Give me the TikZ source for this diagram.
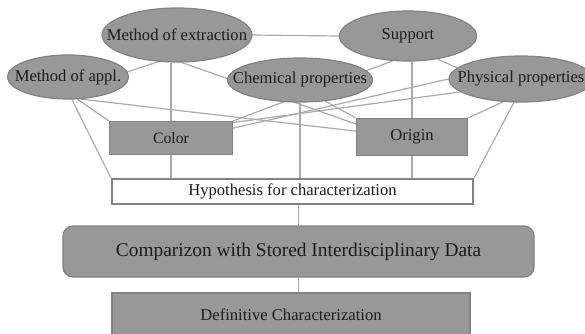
\documentclass[tikz,border=0pt]{standalone}
\usepackage{fontspec}
\setmainfont{Liberation Serif}
\usetikzlibrary{shapes.geometric, backgrounds}
\definecolor{fillgray}{RGB}{152,152,152}
\definecolor{edgegray}{RGB}{130,130,130}
\definecolor{linegray}{RGB}{170,170,170}
\definecolor{txtgray}{RGB}{28,28,28}
\tikzstyle{ellip} = [ellipse, draw=edgegray, fill=fillgray,
    line width=0.6pt, text=txtgray, inner sep=0pt]
\tikzstyle{block} = [rectangle, draw=edgegray, fill=fillgray,
    line width=0.6pt, text=txtgray, inner sep=0pt]
\tikzstyle{hypo} = [rectangle, draw=edgegray, fill=white,
    line width=1.2pt, text=txtgray, inner sep=0pt]
\tikzstyle{line} = [draw=linegray, line width=0.6pt]

\begin{document}
\begin{tikzpicture}[x=0.5pt, y=-0.5pt, font=\fontsize{8.3}{10}\selectfont]
                \useasboundingbox (0,0) rectangle (585,333);
                % top row of properties
                \node [ellip, minimum width=75pt, minimum height=27pt] at (177,35) (ext) {\makebox[0pt]{Method of extraction}};
                \node [ellip, minimum width=68.5pt, minimum height=25pt] at (408,36) (supp) {\makebox[0pt]{Support}};
                \node [ellip, minimum width=60.5pt, minimum height=22pt] at (68,77) (appl) {\makebox[0pt]{Method of appl.}};
                \node [ellip, minimum width=72.5pt, minimum height=22pt] at (300,80) (chem) {\makebox[0pt]{Chemical properties}};
                \node [ellip, minimum width=72pt, minimum height=23pt] at (521,79) (phys) {\makebox[0pt]{Physical properties}};
                \node [block, minimum width=61.5pt, minimum height=16.5pt, font=\fontsize{7.9}{9}\selectfont] at (171,138) (color) {Color};
                \node [block, minimum width=55.5pt, minimum height=18.5pt] at (412,137) (origin) {Origin};
                % chain down to the result
                \node [hypo, minimum width=180.5pt, minimum height=12.5pt] at (292.5,191.5) (hyp) {Hypothesis for characterization};
                \node [block, rounded corners=5pt, minimum width=235.5pt, minimum height=25.5pt, font=\fontsize{9.7}{11}\selectfont] at (298.5,251.5) (comp) {Comparizon with Stored Interdisciplinary Data};
                \node [block, minimum width=179pt, minimum height=22pt] at (291,315) (defin) {Definitive Characterization};
                \begin{pgfonlayer}{background}
                \path [line] (ext.east) -- (supp.west);
                \path [line] (ext.235) -- (appl.5);
                \path [line] (ext.280) -- (origin.167);
                \path [line] (color.north |- ext.south) -- (color.north);
                \path [line] (color.south) -- (color.south |- hyp.north);
                \path [line] (appl.293) -- (color.north west);
                \path [line] (appl.300) -- (origin.174);
                \path [line] (appl.280) -- (hyp.north west);
                \path [line] (supp.238) -- (color.north east);
                \path [line] (supp.322) -- (phys.170);
                \path [line] (origin.north |- supp.south) -- (origin.north);
                \path [line] (origin.south) -- (origin.south |- hyp.north);
                \path [line] (chem.south) -- (chem.south |- hyp.north);
                \path [line] (chem.-40) -- (origin.north west);
                \path [line] (phys.180) -- (color.9);
                \path [line] (phys.192) -- (color.14);
                \path [line] (phys.232) -- (origin.north east);
                \path [line] (phys.253) -- (hyp.north east);
                \path [line] (comp.north |- hyp.south) -- (comp.north);
                \path [line] (comp.south) -- (comp.south |- defin.north);
                \end{pgfonlayer}
            \end{tikzpicture}
\end{document}
